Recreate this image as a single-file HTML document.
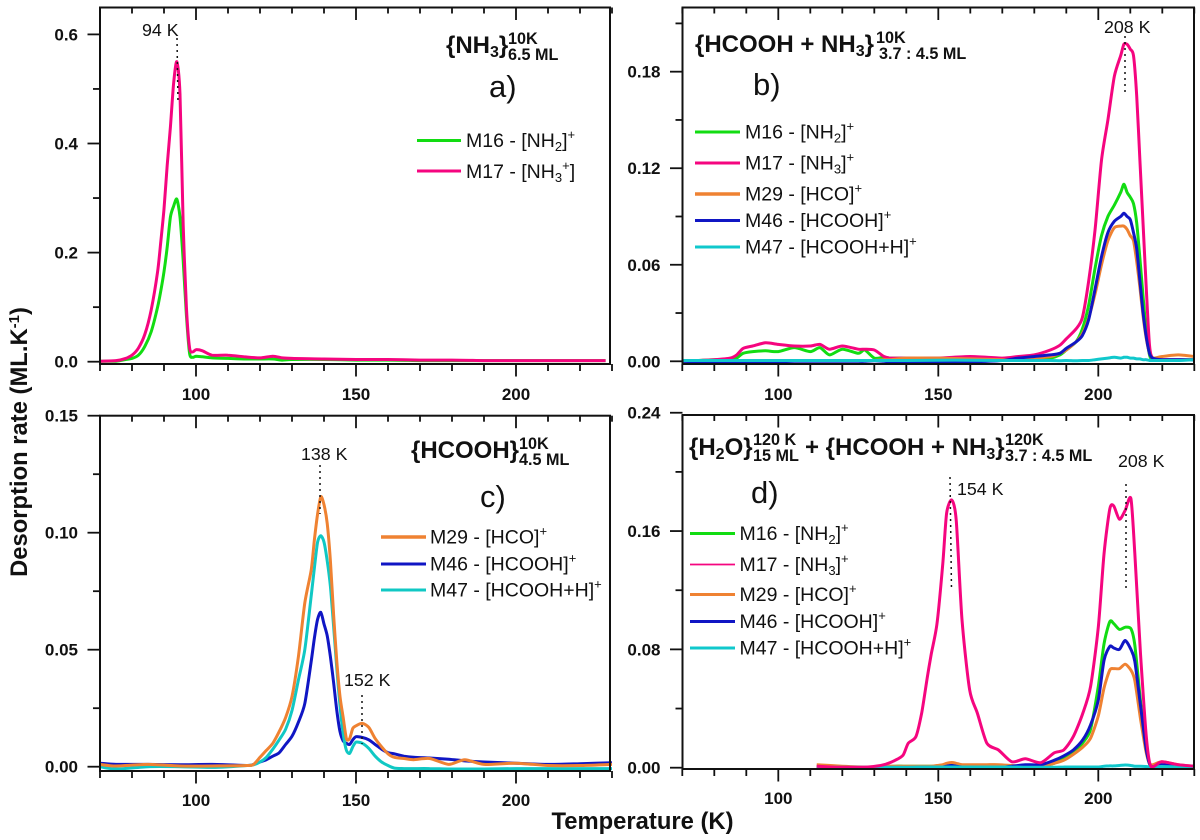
<!DOCTYPE html>
<html lang="en">
<head>
<meta charset="utf-8">
<title>Desorption rate vs temperature</title>
<style>
html,body{margin:0;padding:0;background:#fff;}
svg{display:block;font-family:"Liberation Sans",Arial,sans-serif;}
.tick-label{font-weight:bold;font-size:17px;fill:#111;}
.axis-title{font-weight:bold;font-size:23.8px;fill:#111;}
.legend-text{font-size:19.5px;fill:#111;}
.legend-text tspan.s{font-size:13px;}
.peak{font-size:17.8px;fill:#111;}
.letter{font-size:31px;fill:#111;}
.title{font-weight:bold;font-size:24px;fill:#111;}
.title tspan.s{font-size:16px;}
.scr{font-weight:bold;font-size:16.2px;fill:#111;}
.dots{stroke:#111;stroke-width:1.5;stroke-dasharray:2 4;fill:none;}
</style>
</head>
<body>
<svg id="chart" xmlns="http://www.w3.org/2000/svg" width="1200" height="840" viewBox="0 0 1200 840">
<rect width="1200" height="840" fill="#fff"/>
<g id="marks"></g>

<text class="axis-title" transform="translate(27,442) rotate(-90)" text-anchor="middle">Desorption rate (ML.K<tspan font-size="15" dy="-8">-1</tspan><tspan dy="8">)</tspan></text>
<text class="axis-title" x="642.5" y="829" text-anchor="middle">Temperature (K)</text>

<g>
<text class="title" x="446" y="53">{NH<tspan class="s" dy="4">3</tspan><tspan dy="-4">}</tspan></text>
<text class="scr" x="508" y="44">10K</text>
<text class="scr" x="508" y="60">6.5 ML</text>
<text class="letter" x="489" y="97">a)</text>
<text class="peak" x="142" y="36">94 K</text>
<line class="dots" x1="177" y1="38" x2="178" y2="104"/>
<line x1="417" x2="461" y1="140.5" y2="140.5" stroke="#12dc12" stroke-width="3"/>
<text class="legend-text" x="466" y="147">M16 - [NH<tspan class="s" dy="4">2</tspan><tspan dy="-4">]</tspan><tspan class="s" dy="-8">+</tspan></text>
<line x1="417" x2="461" y1="171" y2="171" stroke="#f5057f" stroke-width="3"/>
<text class="legend-text" x="466" y="178">M17 - [NH<tspan class="s" dy="4">3</tspan><tspan class="s" dy="-12">+</tspan><tspan dy="8">]</tspan></text>
</g>

<g>
<text class="title" x="695" y="52">{HCOOH + NH<tspan class="s" dy="4">3</tspan><tspan dy="-4">}</tspan></text>
<text class="scr" x="876" y="43">10K</text>
<text class="scr" x="879" y="59">3.7 : 4.5 ML</text>
<text class="letter" x="753" y="95">b)</text>
<text class="peak" x="1104" y="33">208 K</text>
<line class="dots" x1="1125" y1="36" x2="1125" y2="94"/>
<line x1="695" x2="740" y1="132" y2="132" stroke="#12dc12" stroke-width="3"/>
<text class="legend-text" x="745" y="138.5">M16 - [NH<tspan class="s" dy="4">2</tspan><tspan dy="-4">]</tspan><tspan class="s" dy="-8">+</tspan></text>
<line x1="695" x2="740" y1="163" y2="163" stroke="#f5057f" stroke-width="3"/>
<text class="legend-text" x="745" y="169.5">M17 - [NH<tspan class="s" dy="4">3</tspan><tspan dy="-4">]</tspan><tspan class="s" dy="-8">+</tspan></text>
<line x1="695" x2="740" y1="194" y2="194" stroke="#ef8232" stroke-width="3.5"/>
<text class="legend-text" x="745" y="200.5">M29 - [HCO]<tspan class="s" dy="-8">+</tspan></text>
<line x1="695" x2="740" y1="220.5" y2="220.5" stroke="#1016c4" stroke-width="3"/>
<text class="legend-text" x="745" y="227">M46 - [HCOOH]<tspan class="s" dy="-8">+</tspan></text>
<line x1="695" x2="740" y1="247" y2="247" stroke="#10c8cc" stroke-width="3"/>
<text class="legend-text" x="745" y="253.5">M47 - [HCOOH+H]<tspan class="s" dy="-8">+</tspan></text>
</g>

<g>
<text class="title" x="411" y="458">{HCOOH}</text>
<text class="scr" x="519" y="449">10K</text>
<text class="scr" x="519" y="465">4.5 ML</text>
<text class="letter" x="480" y="507">c)</text>
<text class="peak" x="301" y="460">138 K</text>
<line class="dots" x1="320" y1="465" x2="320" y2="514"/>
<text class="peak" x="344" y="686">152 K</text>
<line class="dots" x1="362" y1="695" x2="362" y2="744"/>
<line x1="381" x2="426" y1="537" y2="537" stroke="#ef8232" stroke-width="3.5"/>
<text class="legend-text" x="430" y="543.5">M29 - [HCO]<tspan class="s" dy="-8">+</tspan></text>
<line x1="381" x2="426" y1="564" y2="564" stroke="#1016c4" stroke-width="3"/>
<text class="legend-text" x="430" y="570.5">M46 - [HCOOH]<tspan class="s" dy="-8">+</tspan></text>
<line x1="381" x2="426" y1="590" y2="590" stroke="#10c8c4" stroke-width="3"/>
<text class="legend-text" x="430" y="596.5">M47 - [HCOOH+H]<tspan class="s" dy="-8">+</tspan></text>
</g>

<g>
<text class="title" x="689" y="455">{H<tspan class="s" dy="4">2</tspan><tspan dy="-4">O}</tspan></text>
<text class="scr" x="753" y="445">120 K</text>
<text class="scr" x="753" y="461">15 ML</text>
<text class="title" x="805" y="455">+ {HCOOH + NH<tspan class="s" dy="4">3</tspan><tspan dy="-4">}</tspan></text>
<text class="scr" x="1005" y="445">120K</text>
<text class="scr" x="1005" y="461">3.7 : 4.5 ML</text>
<text class="letter" x="751" y="503">d)</text>
<text class="peak" x="957" y="495">154 K</text>
<line class="dots" x1="950" y1="477" x2="951.5" y2="590"/>
<text class="peak" x="1118" y="467">208 K</text>
<line class="dots" x1="1126" y1="484" x2="1126" y2="588"/>
<line x1="690" x2="735" y1="533.5" y2="533.5" stroke="#12dc12" stroke-width="3"/>
<text class="legend-text" x="739.5" y="540">M16 - [NH<tspan class="s" dy="4">2</tspan><tspan dy="-4">]</tspan><tspan class="s" dy="-8">+</tspan></text>
<line x1="690" x2="735" y1="564.5" y2="564.5" stroke="#f5057f" stroke-width="1.8"/>
<text class="legend-text" x="739.5" y="571">M17 - [NH<tspan class="s" dy="4">3</tspan><tspan dy="-4">]</tspan><tspan class="s" dy="-8">+</tspan></text>
<line x1="690" x2="735" y1="594.5" y2="594.5" stroke="#ef8232" stroke-width="3"/>
<text class="legend-text" x="739.5" y="601">M29 - [HCO]<tspan class="s" dy="-8">+</tspan></text>
<line x1="690" x2="735" y1="621.5" y2="621.5" stroke="#1016c4" stroke-width="3"/>
<text class="legend-text" x="739.5" y="628">M46 - [HCOOH]<tspan class="s" dy="-8">+</tspan></text>
<line x1="690" x2="735" y1="648" y2="648" stroke="#10c8cc" stroke-width="3"/>
<text class="legend-text" x="739.5" y="654.5">M47 - [HCOOH+H]<tspan class="s" dy="-8">+</tspan></text>
</g>
</svg>

<script>
// Shared x axis values
const xMajorTicks = [100, 150, 200];
const xMinorTicks = [70, 80, 90, 110, 120, 130, 140, 160, 170, 180, 190, 210, 220, 230];

// Panel a
const aYMajor = [0, 0.2, 0.4, 0.6];
const aYMinor = [0.1, 0.3, 0.5];
const aYLabels = ["0.0", "0.2", "0.4", "0.6"];
const aTemps = [70,75,78,80,82,84,86,88,89,90,91,92,93,94,95,96,97,98,99,100,102,105,110,115,120,124,127,130,140,150,160,170,180,190,200,210,220,228];
const aM16 = [.001,.001,.004,.006,.012,.028,.055,.10,.13,.165,.21,.265,.285,.298,.265,.185,.085,.015,.008,.01,.009,.007,.006,.005,.005,.005,.003,.004,.004,.003,.003,.002,.002,.002,.002,.002,.002,.002];
const aM17 = [.001,.002,.006,.012,.025,.05,.095,.165,.22,.28,.36,.43,.51,.55,.49,.25,.10,.025,.018,.022,.02,.012,.012,.009,.007,.01,.007,.006,.005,.004,.004,.003,.003,.002,.002,.002,.002,.002];

// Panel b
const bYMajor = [0, 0.06, 0.12, 0.18];
const bYMinor = [0.03, 0.09, 0.15, 0.21];
const bYLabels = ["0.00", "0.06", "0.12", "0.18"];
const bTemps = [70,75,80,85,87,89,92,96,100,105,110,113,116,120,125,127,130,133,135,140,150,160,170,175,180,185,188,190,193,195,197,199,201,203,205,207,208,209,210,211,212,213,214,215,216,217,220,225,230];
const bM16 = [0,.0005,.001,.001,.002,.005,.006,.0065,.006,.0085,.006,.0085,.004,.0075,.005,.007,.002,.0025,.002,.002,.002,.002,.001,.001,.001,.002,.004,.007,.012,.02,.035,.058,.078,.09,.097,.105,.11,.105,.102,.098,.086,.064,.04,.018,.004,.001,.001,.001,.001];
const bM17 = [0,.0005,.001,.002,.004,.008,.0095,.0115,.0105,.0095,.0095,.0105,.0075,.0095,.0075,.0075,.007,.003,.002,.002,.002,.003,.002,.003,.004,.007,.01,.014,.02,.027,.05,.082,.125,.15,.177,.19,.197,.197,.194,.19,.165,.125,.085,.045,.01,.002,.001,.001,.001];
const bM29 = [0,0,.0005,.0005,.0005,.0005,.0005,.0005,.0005,.0005,.0005,.0005,.0005,.0005,.0005,.0003,.0005,.001,.001,.002,.002,.0015,.001,.001,.002,.003,.005,.007,.012,.017,.027,.042,.06,.075,.083,.084,.084,.082,.078,.075,.062,.046,.028,.014,.005,.002,.003,.004,.003];
const bM46 = [0,-.0003,-.0003,-.0005,-.0005,-.0005,-.0005,-.0005,-.0003,0,0,0,0,0,0,0,.0003,0,-.0003,-.0003,-.0003,-.0003,.0005,.002,.003,.004,.005,.008,.012,.016,.026,.045,.065,.08,.087,.09,.092,.09,.088,.08,.07,.05,.03,.015,.005,.002,.001,.001,.001];
const bM47 = [.0005,.0005,.0005,.0005,.0005,.0005,.0005,.0005,.0005,.0005,.0005,.0005,.0005,.0005,.0005,.0005,.0005,.0005,.0005,.0005,.0007,.0007,.0005,.0005,.0005,.0005,.0003,.0005,.0003,.0005,.0005,.001,.0015,.002,.0025,.002,.0025,.0025,.002,.002,.0015,.0015,.001,.001,.0005,.0005,.0005,.0005,.001];

// Panel c
const cYMajor = [0, 0.05, 0.10, 0.15];
const cYMinor = [0.025, 0.075, 0.125];
const cYLabels = ["0.00", "0.05", "0.10", "0.15"];
const cTemps = [70,75,85,95,105,116,118,120,122,124,126,128,130,132,134,136,137,138,139,140,141,142,143,144,145,146,147,148,149,150,152,154,156,158,160,162,165,168,173,179,184,190,200,210,220,230];
const cM29 = [.001,.0003,.001,.0003,.0003,.0005,.001,.004,.007,.01,.015,.021,.03,.047,.07,.084,.097,.108,.1154,.112,.104,.088,.065,.045,.03,.021,.012,.012,.0164,.0175,.0185,.0168,.012,.0085,.0055,.004,.0035,.003,.0035,.001,.003,.001,.0015,.0005,.0005,.001];
const cM46 = [.0015,.001,.001,.0008,.001,.0005,.001,.002,.003,.0045,.006,.0095,.013,.019,.027,.045,.055,.063,.066,.061,.056,.047,.036,.024,.015,.011,.01,.0095,.0115,.0128,.0125,.0115,.0095,.0075,.006,.0055,.0045,.004,.0037,.0032,.0025,.002,.0015,.001,.0013,.0017];
const cM47 = [0,-.001,0,0,-.0003,.0005,.0008,.002,.004,.0075,.0115,.016,.024,.037,.05,.073,.085,.096,.0987,.096,.088,.077,.06,.042,.026,.014,.007,.0057,.0085,.0105,.01,.0078,.0045,.002,.0005,-.0006,-.0008,-.0008,-.0008,-.001,-.001,-.001,-.0008,-.0008,-.0008,-.0008];

// Panel d
const dYMajor = [0, 0.08, 0.16, 0.24];
const dYMinor = [0.04, 0.12, 0.20];
const dYLabels = ["0.00", "0.08", "0.16", "0.24"];
const dTemps = [112,120,128,133,136.5,139,140.6,143,144.8,146.6,147.8,149.6,151.4,152.6,154.2,155.6,157.4,159.8,162.2,165.2,168.8,173,177.2,182,186.2,189.2,192.2,195.2,197.6,200,201.8,203.6,204.8,206.6,208.4,210.2,211.4,213.2,215,216.4,219.8,225,230];
const dM16 = [.0005,.0005,.0005,.0005,.001,.001,.001,.001,.001,.001,.001,.001,.001,.001,.0015,.001,.001,.001,.001,.001,.001,.001,.001,.001,.003,.006,.01,.017,.026,.055,.084,.0987,.0975,.0935,.095,.094,.083,.045,.012,.001,.002,.001,.001];
const dM17 = [.001,.0003,.0005,.002,.005,.0085,.0165,.021,.037,.0615,.077,.0975,.138,.172,.181,.1675,.10,.0525,.037,.0165,.012,.004,.006,.0034,.010,.012,.021,.037,.055,.095,.145,.175,.177,.168,.174,.182,.145,.077,.021,.001,.004,.002,.001];
const dM29 = [.002,.001,.0005,.001,.001,.001,.001,.001,.001,.001,.001,.0015,.002,.003,.0035,.003,.002,.002,.002,.002,.002,.0015,.001,.001,.003,.005,.009,.014,.02,.035,.054,.066,.067,.067,.07,.066,.059,.033,.01,.002,.004,.002,.001];
const dM46 = [-.0002,-.0002,0,0,0,0,0,0,0,0,0,0,.0005,.001,.0015,.001,.0005,0,0,0,0,.001,.002,.002,.005,.008,.012,.019,.029,.0457,.0728,.082,.081,.08,.086,.08,.072,.042,.012,.001,.002,.001,.001];
const dM47 = [.0003,.0003,.0003,.0003,.0003,.0003,.0003,.0005,.0005,.0005,.0005,.0005,.0005,.0005,.0005,.0005,.0005,.0005,.0005,.0005,.0005,.0005,.0003,.0003,.0003,.0005,.0005,.0005,.0005,.0005,.001,.0012,.0012,.0015,.0018,.0015,.001,.001,.0008,.0005,.0008,.0005,.0005];

const COLORS = {m16:"#12dc12", m17:"#f5057f", m29:"#ef8232", m46:"#1016c4", m47:"#10c8cc"};
const SVG_NS = "http://www.w3.org/2000/svg";
const root = document.getElementById("marks");

function make(parent, tag, attrs) {
  const el = document.createElementNS(SVG_NS, tag);
  for (const k in attrs) el.setAttribute(k, attrs[k]);
  parent.appendChild(el);
  return el;
}

// Smooth path through the data points (Catmull-Rom style, mild tension)
function smoothPath(xs, ys) {
  let d = "M" + xs[0].toFixed(1) + " " + ys[0].toFixed(1);
  const k = 1 / 8;
  for (let i = 0; i < xs.length - 1; i++) {
    const i0 = Math.max(i - 1, 0);
    const i3 = Math.min(i + 2, xs.length - 1);
    const c1x = xs[i] + (xs[i + 1] - xs[i0]) * k;
    const c1y = ys[i] + (ys[i + 1] - ys[i0]) * k;
    const c2x = xs[i + 1] - (xs[i3] - xs[i]) * k;
    const c2y = ys[i + 1] - (ys[i3] - ys[i]) * k;
    d += "C" + c1x.toFixed(1) + " " + c1y.toFixed(1) + " " + c2x.toFixed(1) + " " + c2y.toFixed(1) + " " + xs[i + 1].toFixed(1) + " " + ys[i + 1].toFixed(1);
  }
  return d;
}

function drawPanel(p) {
  const xScale = t => p.x100 + (t - 100) * 3.2;
  const yScale = v => p.y0 - v * p.pxPerUnit;

  const g = make(root, "g", {});
  
  

  // series
  p.series.forEach(s => {
    const d = smoothPath(p.temps.map(xScale), s.values.map(yScale));
    const line = make(g, "path", {d: d, fill: "none", stroke: s.color, "stroke-width": s.width || 3, "stroke-linejoin": "round"});
    
    
  });

  // frame
  const frame = make(g, "rect", {x: p.left, y: p.top, width: p.right - p.left, height: p.bottom - p.top, fill: "none", stroke: "#111", "stroke-width": 2});
  
  

  // x ticks
  xMajorTicks.forEach(t => {
    const x = xScale(t);
    const a = make(g, "line", {x1: x, x2: x, y1: p.bottom, y2: p.bottom + 12.5, stroke: "#111", "stroke-width": 1.8});
    
    
    const b = make(g, "line", {x1: x, x2: x, y1: p.top, y2: p.top + 12.5, stroke: "#111", "stroke-width": 1.8});
    
    
    const lab = make(g, "text", {x: x, y: p.xLabelY, "text-anchor": "middle", class: "tick-label"});
    lab.textContent = String(t);
    
    
  });
  xMinorTicks.forEach(t => {
    const x = xScale(t);
    const a = make(g, "line", {x1: x, x2: x, y1: p.bottom, y2: p.bottom + 7, stroke: "#111", "stroke-width": 1.8});
    
    
    const b = make(g, "line", {x1: x, x2: x, y1: p.top, y2: p.top + 6, stroke: "#111", "stroke-width": 1.8});
    
    
  });

  // y ticks
  p.yMajor.forEach((v, i) => {
    const y = yScale(v);
    const a = make(g, "line", {x1: p.left - 12.5, x2: p.left, y1: y, y2: y, stroke: "#111", "stroke-width": 1.8});
    
    
    const lab = make(g, "text", {x: p.left - 22, y: y + 6, "text-anchor": "end", class: "tick-label"});
    lab.textContent = p.yLabels[i];
    
    
  });
  p.yMinor.forEach(v => {
    const y = yScale(v);
    const a = make(g, "line", {x1: p.left - 7, x2: p.left, y1: y, y2: y, stroke: "#111", "stroke-width": 1.8});
    
    
  });
}

drawPanel({
  id: "a", left: 100, right: 610, top: 7.5, bottom: 364, x100: 196, y0: 361.7, pxPerUnit: 545.5, xLabelY: 400,
  temps: aTemps, yMajor: aYMajor, yMinor: aYMinor, yLabels: aYLabels,
  series: [
    {name: "m16", values: aM16, color: COLORS.m16},
    {name: "m17", values: aM17, color: COLORS.m17}
  ]
});
drawPanel({
  id: "b", left: 682.5, right: 1194, top: 7.5, bottom: 364, x100: 778.3, y0: 361.3, pxPerUnit: 1609, xLabelY: 400,
  temps: bTemps, yMajor: bYMajor, yMinor: bYMinor, yLabels: bYLabels,
  series: [
    {name: "m16", values: bM16, color: COLORS.m16},
    {name: "m17", values: bM17, color: COLORS.m17},
    {name: "m29", values: bM29, color: COLORS.m29},
    {name: "m46", values: bM46, color: COLORS.m46},
    {name: "m47", values: bM47, color: COLORS.m47}
  ]
});
drawPanel({
  id: "c", left: 100, right: 610, top: 415.7, bottom: 771, x100: 196, y0: 766.7, pxPerUnit: 2340, xLabelY: 806,
  temps: cTemps, yMajor: cYMajor, yMinor: cYMinor, yLabels: cYLabels,
  series: [
    {name: "m46", values: cM46, color: COLORS.m46},
    {name: "m47", values: cM47, color: "#10c8c4"},
    {name: "m29", values: cM29, color: COLORS.m29}
  ]
});
drawPanel({
  id: "d", left: 682.5, right: 1194, top: 415, bottom: 769, x100: 778.3, y0: 767.7, pxPerUnit: 1479, xLabelY: 804,
  temps: dTemps, yMajor: dYMajor, yMinor: dYMinor, yLabels: dYLabels,
  series: [
    {name: "m16", values: dM16, color: COLORS.m16},
    {name: "m29", values: dM29, color: COLORS.m29},
    {name: "m46", values: dM46, color: COLORS.m46},
    {name: "m47", values: dM47, color: COLORS.m47},
    {name: "m17", values: dM17, color: COLORS.m17}
  ]
});
</script>
</body>
</html>
